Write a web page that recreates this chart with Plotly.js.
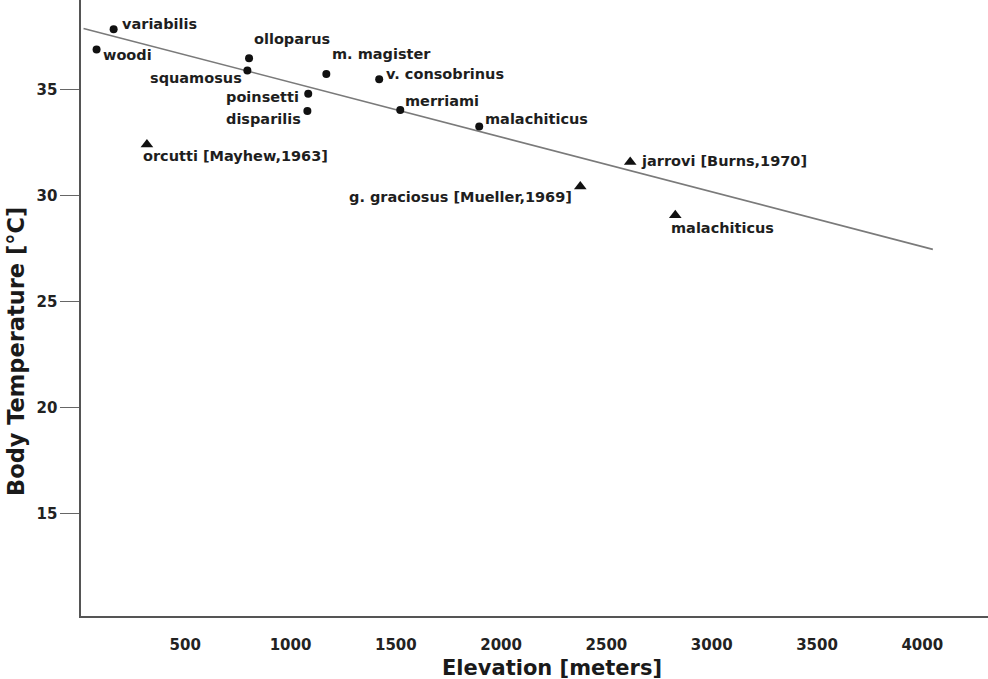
<!DOCTYPE html>
<html>
<head>
<meta charset="utf-8">
<script src="https://cdn.plot.ly/plotly-3.0.1.min.js"></script>
<style>html,body{margin:0;padding:0;background:#fff;}#chart{width:988px;height:679px;}</style>
</head>
<body>
<div id="chart"></div>
<script>
// Field-measured species (circles)
const circleNames = ["variabilis","woodi","olloparus","squamosus","poinsetti","disparilis","m. magister","v. consobrinus","merriami","malachiticus"];
const circleElev  = [160, 79, 803, 795, 1084, 1080, 1170, 1421, 1521, 1896];
const circleTemp  = [37.83, 36.88, 36.46, 35.88, 34.79, 33.97, 35.72, 35.47, 34.02, 33.25];

// Literature values (triangles)
const triNames = ["orcutti [Mayhew,1963]","g. graciosus [Mueller,1969]","jarrovi [Burns,1970]","malachiticus"];
const triElev  = [318, 2376, 2613, 2827];
const triTemp  = [32.40, 30.42, 31.57, 29.06];

// Regression line end points
const lineElev = [17, 4050];
const lineTemp = [37.87, 27.45];

// Axis ticks and titles
const xTicks = [500, 1000, 1500, 2000, 2500, 3000, 3500, 4000];
const yTicks = [15, 20, 25, 30, 35];
const xTitle = "Elevation [meters]";
const yTitle = "Body Temperature [°C]";

// Label placement (style only): [xanchor, xshift, yshift]
const circleLabelPos = [
  ["left", 6, 5], ["left", 4, -6], ["left", 3, 19], ["right", -3, -7], ["right", -7, -3],
  ["right", -4, -8], ["left", 4, 20], ["left", 5, 5], ["left", 3, 9], ["left", 4, 7]
];
const triLabelPos = [
  ["left", -6, -12], ["right", -6, -11], ["left", 9, 1], ["left", -6, -13]
];

const FONT = "DejaVu Sans, Arial, sans-serif";
const labelFont = {family: FONT, size: 14.5, color: "#1e1e1e", weight: "bold"};

const annotations = [];
circleNames.forEach((n, i) => {
  const p = circleLabelPos[i];
  annotations.push({x: circleElev[i], y: circleTemp[i], xref: "x", yref: "y", text: n, showarrow: false,
    xanchor: p[0], yanchor: "middle", xshift: p[1], yshift: p[2], font: labelFont});
});
triNames.forEach((n, i) => {
  const p = triLabelPos[i];
  annotations.push({x: triElev[i], y: triTemp[i], xref: "x", yref: "y", text: n, showarrow: false,
    xanchor: p[0], yanchor: "middle", xshift: p[1], yshift: p[2], font: labelFont});
});
// Axis titles
annotations.push({xref: "paper", yref: "paper", x: 0.519, y: 0, xanchor: "center", yanchor: "middle",
  yshift: -52, text: xTitle, showarrow: false,
  font: {family: FONT, size: 21, color: "#1a1a1a", weight: "bold"}});
annotations.push({xref: "paper", yref: "paper", x: 0, y: 0.4286, xanchor: "center", yanchor: "middle",
  xshift: -65, textangle: -90, text: yTitle, showarrow: false,
  font: {family: FONT, size: 22.5, color: "#1a1a1a", weight: "bold"}});

const traces = [
  {x: lineElev, y: lineTemp, type: "scatter", mode: "lines", line: {color: "#7a7a7a", width: 1.6},
   hoverinfo: "skip", showlegend: false},
  {x: circleElev, y: circleTemp, text: circleNames, type: "scatter", mode: "markers",
   marker: {symbol: "circle", size: 8, color: "#111"}, showlegend: false},
  {x: triElev, y: triTemp, text: triNames, type: "scatter", mode: "markers",
   marker: {symbol: "triangle-up", size: 11, color: "#111"}, showlegend: false}
];

const layout = {
  width: 988, height: 679,
  margin: {l: 81, r: 0, t: 0, b: 63, pad: 0},
  paper_bgcolor: "#fff", plot_bgcolor: "#fff",
  showlegend: false,
  xaxis: {
    range: [5, 4312], tickvals: xTicks, ticktext: xTicks.map(String),
    showgrid: false, zeroline: false, showline: true, linecolor: "#555", linewidth: 2,
    ticks: "outside", ticklen: 14, tickcolor: "rgba(0,0,0,0)",
    tickfont: {family: FONT, size: 15, color: "#222", weight: "bold"},
    automargin: false
  },
  yaxis: {
    range: [10.16, 39.21], tickvals: yTicks, ticktext: yTicks.map(String),
    showgrid: false, zeroline: false, showline: true, linecolor: "#555", linewidth: 1.6,
    ticks: "outside", ticklen: 19, tickwidth: 1.4, tickcolor: "#666",
    tickfont: {family: FONT, size: 15, color: "#222", weight: "bold"},
    automargin: false
  },
  annotations: annotations
};

Plotly.newPlot("chart", traces, layout, {displayModeBar: false, staticPlot: true});
</script>
</body>
</html>
